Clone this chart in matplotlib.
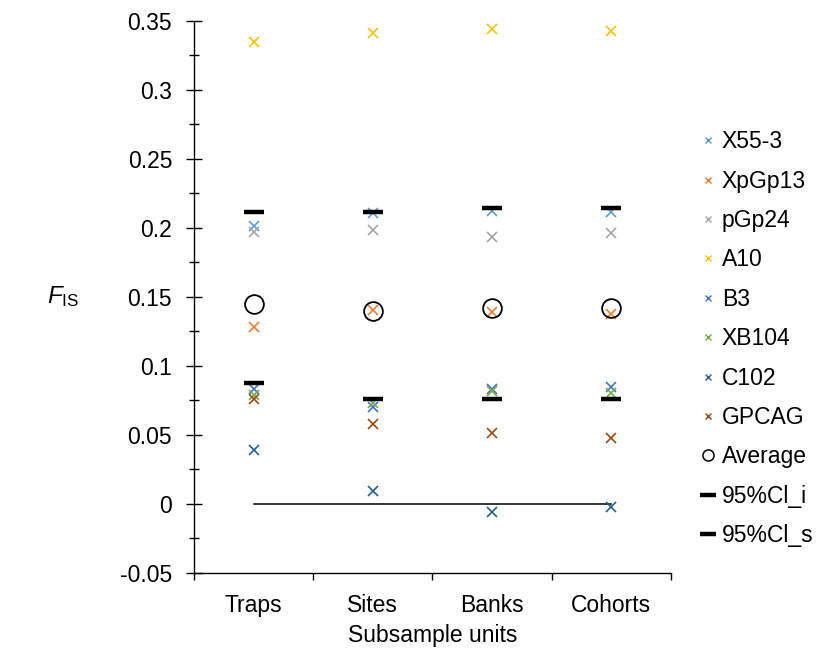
import matplotlib
matplotlib.use("Agg")
import matplotlib.pyplot as plt
from matplotlib.lines import Line2D
from matplotlib.ticker import MultipleLocator, FixedLocator

plt.rcParams['font.family'] = ['Liberation Sans', 'DejaVu Sans']
plt.rcParams['mathtext.fontset'] = 'custom'
plt.rcParams['mathtext.rm'] = 'Liberation Sans'
plt.rcParams['mathtext.it'] = 'Liberation Sans:italic'

categories = ["Traps", "Sites", "Banks", "Cohorts"]
X55_3 = [0.2014, 0.2110, 0.2121, 0.2114]
XpGp13 = [0.1285, 0.1406, 0.1389, 0.1375]
pGp24 = [0.1970, 0.1986, 0.1937, 0.1961]
A10 = [0.3350, 0.3413, 0.3442, 0.3430]
B3 = [0.0831, 0.0700, 0.0830, 0.0850]
XB104 = [0.0790, 0.0734, 0.0819, 0.0807]
C102 = [0.0391, 0.0097, -0.0060, -0.0024]
GPCAG = [0.0761, 0.0577, 0.0514, 0.0480]
Average = [0.1447, 0.1401, 0.1418, 0.1418]
CI_i = [0.0879, 0.0758, 0.0758, 0.0758]
CI_s = [0.2114, 0.2114, 0.2147, 0.2147]
zero_line = [0, 0, 0, 0]

series = [
    ("X55-3", X55_3, "#5B9BD5"),
    ("XpGp13", XpGp13, "#ED7D31"),
    ("pGp24", pGp24, "#A5A5A5"),
    ("A10", A10, "#FFC000"),
    ("B3", B3, "#4472C4"),
    ("XB104", XB104, "#70AD47"),
    ("C102", C102, "#255E91"),
    ("GPCAG", GPCAG, "#9E480E"),
]

FS = 16.5

fig = plt.figure(figsize=(8.26, 6.5), dpi=100)
ax = fig.add_axes([0.2349, 0.1185, 0.8123 - 0.2349, 0.9677 - 0.1185])

x = list(range(1, len(categories) + 1))

ax.plot(x, zero_line, color="black", lw=1.1, zorder=1)

handles = []
for name, vals, col in series:
    ax.plot(x, vals, linestyle="none", marker="x", markersize=7, markeredgewidth=1.2,
            color=col, zorder=3)
    handles.append(Line2D([], [], linestyle="none", marker="x", markersize=4.8,
                          markeredgewidth=1.0, color=col, label=name))

ax.plot(x, Average, linestyle="none", marker="o", markersize=13.5, markerfacecolor="none",
        markeredgecolor="black", markeredgewidth=1.3, zorder=4)
handles.append(Line2D([], [], linestyle="none", marker="o", markersize=8, markerfacecolor="none",
                      markeredgecolor="black", markeredgewidth=1.1, label="Average"))
ax.plot(x, CI_i, linestyle="none", marker="_", markersize=14.5, markeredgewidth=3.2,
        color="black", zorder=5)
handles.append(Line2D([], [], linestyle="none", marker="_", markersize=11, markeredgewidth=3.2,
                      color="black", label="95%Cl_i"))
ax.plot(x, CI_s, linestyle="none", marker="_", markersize=14.5, markeredgewidth=3.2,
        color="black", zorder=5)
handles.append(Line2D([], [], linestyle="none", marker="_", markersize=11, markeredgewidth=3.2,
                      color="black", label="95%Cl_s"))

ax.set_xlim(0.5, 4.5)
ax.set_ylim(-0.05, 0.35)

for s in ["top", "right"]:
    ax.spines[s].set_visible(False)
for s in ["left", "bottom"]:
    ax.spines[s].set_linewidth(1.0)
    ax.spines[s].set_color("black")

ax.yaxis.set_minor_locator(MultipleLocator(0.025))
ax.set_yticks([-0.05, 0, 0.05, 0.1, 0.15, 0.2, 0.25, 0.3, 0.35])
ax.set_yticklabels(["-0.05", "0", "0.05", "0.1", "0.15", "0.2", "0.25", "0.3", "0.35"])
ax.tick_params(axis="y", which="major", direction="inout", length=11.5, width=1.0,
               labelsize=FS, pad=10)
ax.tick_params(axis="y", which="minor", direction="inout", length=7.5, width=1.0)

ax.set_xticks(x)
ax.set_xticklabels(categories)
ax.xaxis.set_minor_locator(FixedLocator([0.5, 1.5, 2.5, 3.5, 4.5]))
ax.tick_params(axis="x", which="major", length=0, labelsize=FS, pad=15)
ax.tick_params(axis="x", which="minor", direction="out", length=5, width=1.0)

ax.set_xlabel("Subsample units", fontsize=FS, labelpad=5)
fig.text(0.057, 0.543, r"$F_{\mathrm{IS}}$", fontsize=17.5, ha="left", va="center")

leg = fig.legend(handles=handles, loc="upper left", bbox_to_anchor=(0.8438, 0.7995),
                 frameon=False, fontsize=FS, labelspacing=0.715, handlelength=1.0,
                 handletextpad=0.08, borderaxespad=0, borderpad=0)

fig.savefig("out.png", dpi=100)
